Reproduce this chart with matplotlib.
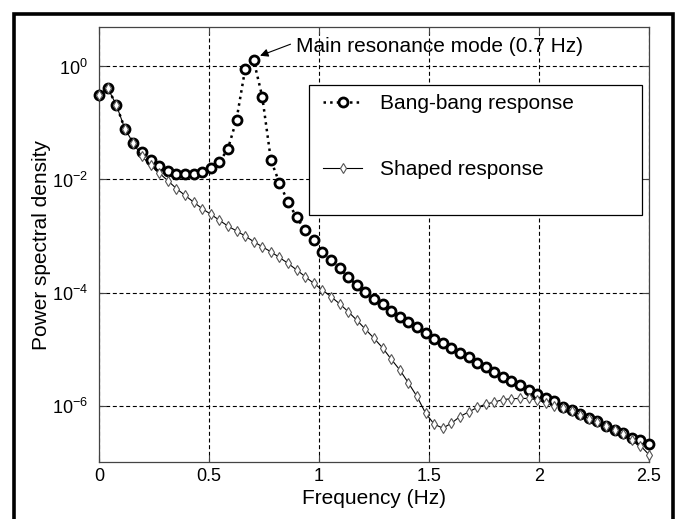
import numpy as np
import matplotlib
matplotlib.use("Agg")
import matplotlib.pyplot as plt
from matplotlib.patches import Rectangle
from matplotlib.ticker import NullLocator

plt.rcParams['font.family'] = ['Liberation Sans', 'DejaVu Sans']
plt.rcParams['mathtext.fontset'] = 'custom'
plt.rcParams['mathtext.rm'] = 'Liberation Sans'
plt.rcParams['mathtext.it'] = 'Liberation Sans:italic'
plt.rcParams['mathtext.default'] = 'regular'

# frequency bins (Hz)
freq = [0.0, 0.0391, 0.0781, 0.1172, 0.1563, 0.1953, 0.2344, 0.2734, 0.3125, 0.3516,
        0.3906, 0.4297, 0.4688, 0.5078, 0.5469, 0.5859, 0.6250, 0.6641, 0.7031, 0.7422,
        0.7813, 0.8203, 0.8594, 0.8984, 0.9375, 0.9766, 1.0156, 1.0547, 1.0938, 1.1328,
        1.1719, 1.2109, 1.2500, 1.2891, 1.3281, 1.3672, 1.4063, 1.4453, 1.4844, 1.5234,
        1.5625, 1.6016, 1.6406, 1.6797, 1.7188, 1.7578, 1.7969, 1.8359, 1.8750, 1.9141,
        1.9531, 1.9922, 2.0313, 2.0703, 2.1094, 2.1484, 2.1875, 2.2266, 2.2656, 2.3047,
        2.3438, 2.3828, 2.4219, 2.4609, 2.5000]

# log10 of the power spectral density
bang_log10 = [-0.50, -0.38, -0.675, -1.10, -1.35, -1.52, -1.66, -1.76, -1.85, -1.90,
              -1.91, -1.91, -1.86, -1.79, -1.69, -1.46, -0.94, -0.05, 0.11, -0.54,
              -1.655, -2.065, -2.40, -2.67, -2.90, -3.075, -3.28, -3.43, -3.575, -3.73,
              -3.87, -3.99, -4.12, -4.21, -4.32, -4.43, -4.515, -4.615, -4.72, -4.825,
              -4.895, -4.98, -5.07, -5.15, -5.24, -5.31, -5.40, -5.49, -5.57, -5.63,
              -5.72, -5.79, -5.865, -5.925, -6.025, -6.085, -6.145, -6.22, -6.28, -6.355,
              -6.425, -6.495, -6.57, -6.615, -6.685]

shaped_log10 = [-0.50, -0.38, -0.675, -1.10, -1.36, -1.59, -1.75, -1.885, -2.02, -2.16,
                -2.28, -2.40, -2.515, -2.615, -2.72, -2.825, -2.91, -3.00, -3.10, -3.19,
                -3.28, -3.38, -3.485, -3.60, -3.72, -3.84, -3.955, -4.075, -4.20, -4.34,
                -4.49, -4.65, -4.81, -4.98, -5.18, -5.37, -5.60, -5.84, -6.135, -6.33,
                -6.40, -6.315, -6.195, -6.115, -6.035, -5.975, -5.94, -5.895, -5.88, -5.875,
                -5.875, -5.90, -5.95, -6.00, -6.04, -6.10, -6.16, -6.23, -6.30, -6.37,
                -6.44, -6.51, -6.61, -6.71, -6.87]

xticks = [0, 0.5, 1, 1.5, 2, 2.5]
xticklabels = ['0', '0.5', '1', '1.5', '2', '2.5']
yticks = [1e-6, 1e-4, 1e-2, 1]
yticklabels = [r'$10^{-6}$', r'$10^{-4}$', r'$10^{-2}$', r'$10^{0}$']

bang = np.power(10.0, bang_log10)
shaped = np.power(10.0, shaped_log10)

fig = plt.figure(figsize=(6.81, 5.19), dpi=100)
ax = fig.add_axes([0.1454, 0.1098, 0.8076, 0.8382])

ax.plot(freq, bang, linestyle=':', color='k', lw=1.8, marker='o', ms=6.5,
        mfc='white', mec='k', mew=2.0, label='Bang-bang response', zorder=3,
        clip_on=False)
ax.plot(freq, shaped, linestyle='-', color='k', lw=0.8, marker='d', ms=5.5,
        mfc='white', mec='#555555', mew=0.8, label='Shaped response', zorder=3.5,
        clip_on=False)

ax.set_yscale('log')
ax.set_xlim(0, 2.5)
ax.set_ylim(1e-7, 5)
ax.set_xticks(xticks)
ax.set_xticklabels(xticklabels)
ax.set_yticks(yticks)
ax.set_yticklabels(yticklabels)
ax.yaxis.set_minor_locator(NullLocator())
ax.tick_params(direction='in', length=5, width=0.8, color='#444444',
               top=True, right=True, labelsize=13)
ax.tick_params(axis='x', pad=4)
ax.tick_params(axis='y', pad=8)
ax.grid(True, which='major', color='k', linestyle=(0, (3.6, 2.4)), linewidth=0.8)
for s in ax.spines.values():
    s.set_color('#444444')
    s.set_linewidth(0.9)

ax.set_xlabel('Frequency (Hz)', fontsize=15, labelpad=3)
ax.set_ylabel('Power spectral density', fontsize=15)
ax.yaxis.set_label_coords(-0.087, 0.5)

# legend box drawn separately so its size matches the original
ax.add_patch(Rectangle((0.382, 0.568), 0.605, 0.299, transform=ax.transAxes,
                       fc='white', ec='k', lw=0.9, zorder=4))
leg = ax.legend(loc='upper left', bbox_to_anchor=(0.407, 0.846), frameon=False,
                fontsize=15, handlelength=1.9, handletextpad=0.85, labelspacing=2.27,
                borderpad=0, borderaxespad=0, numpoints=1)
leg.set_zorder(5)

ax.annotate('Main resonance mode (0.7 Hz)', xy=(0.732, 1.55), xytext=(0.895, 2.22),
            fontsize=15, ha='left', va='center',
            arrowprops=dict(arrowstyle='-|>', color='k', lw=0.8, shrinkA=2, shrinkB=0,
                            mutation_scale=12, relpos=(0, 0.75)))

# thick outer frame (bottom edge falls outside the image)
fig.add_artist(Rectangle((13.5 / 681, -0.05), (673.3 - 13.5) / 681, 1 - 14.3 / 519 + 0.05,
                         transform=fig.transFigure, fill=False, ec='k', lw=2.6,
                         clip_on=False))

fig.savefig('out.png', dpi=100)
